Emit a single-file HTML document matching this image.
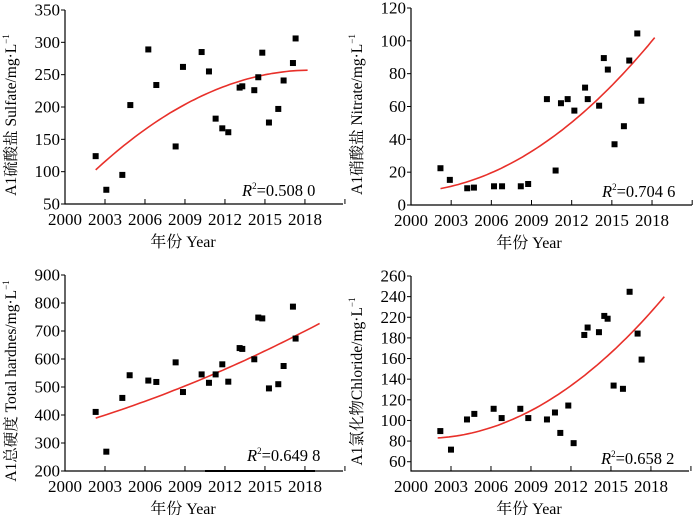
<!DOCTYPE html>
<html><head><meta charset="utf-8"><style>
html,body{margin:0;padding:0;background:#fff;}
svg{display:block;font-family:"Liberation Serif","Noto Serif CJK SC",serif;}
</style></head><body>
<svg id="chart" width="700" height="515" viewBox="0 0 700 515"></svg>
<script>
// ---- Panel data ----
const sulfateYears=[2002.3,2003.1,2004.3,2004.9,2006.25,2006.85,2008.3,2008.85,2010.25,2010.8,2011.3,2011.8,2012.25,2013.1,2013.3,2014.2,2014.5,2014.8,2015.3,2016,2016.4,2017.1,2017.3];
const sulfateValues=[124,72,95,203,289,234,139,262,285,255,182,167,161,230,232,226,246,284,176,197,241,268,306];
const sulfateTicks=[50,100,150,200,250,300,350];
const sulfateFit=[2002.3,2018.2,257,-0.588,2018.5];

const nitrateYears=[2002.2,2002.9,2004.2,2004.7,2006.2,2006.8,2008.2,2008.75,2010.15,2010.8,2011.2,2011.7,2012.2,2013,2013.2,2014.05,2014.4,2014.7,2015.2,2015.9,2016.3,2016.9,2017.2];
const nitrateValues=[22.4,15.3,10.2,10.6,11.4,11.4,11.4,12.8,64.5,21,62,64.5,57.5,71.5,64.5,60.5,89.5,82.5,37,48,88,104.5,63.5];
const nitrateTicks=[0,20,40,60,80,100,120];
const nitrateFit=[2002.2,2018.2,10,1.535,0.2634];

const hardYears=[2002.3,2003.1,2004.3,2004.85,2006.25,2006.85,2008.3,2008.85,2010.25,2010.8,2011.3,2011.8,2012.25,2013.1,2013.3,2014.2,2014.5,2014.8,2015.3,2016,2016.4,2017.1,2017.3];
const hardValues=[411,269,461,542,523,518,588,482,545,515,545,581,519,639,636,599,748,745,495,510,575,787,673];
const hardTicks=[200,300,400,500,600,700,800,900];
const hardFit=[2002.3,2019.1,389,15.08,0.3];

const chlorYears=[2002.2,2003,2004.2,2004.75,2006.2,2006.8,2008.2,2008.8,2010.2,2010.8,2011.2,2011.8,2012.2,2013,2013.25,2014.1,2014.5,2014.75,2015.2,2015.9,2016.4,2017,2017.3];
const chlorValues=[93,73,105.5,111.5,117,107,117,107,105.5,113,91,120.5,80,196.5,204.5,199.5,217,214,142,138.5,243,198,170];
// printed labels (the original figure prints these evenly spaced, 200 omitted)
const chlorTicks=[260,240,220,180,160,140,120,100,80,60];
const chlorFit=[2002,2019,85.6,0.89,0.474];

const xTicks=[2000,2003,2006,2009,2012,2015,2018];
const NS="http://www.w3.org/2000/svg";
const svg=document.getElementById('chart');
function mk(tag,attrs,parent){const e=document.createElementNS(NS,tag);for(const k in attrs)e.setAttribute(k,attrs[k]);(parent||svg).appendChild(e);return e;}

function panel(cfg){
  const g=mk('g',{});
  
  
  const xs=y=>cfg.x0+(y-2000)*cfg.kx;
  const ys=v=>cfg.yTop+(cfg.yMax-v)/(cfg.yMax-cfg.yMin)*(cfg.yBot-cfg.yTop);
  const ax=mk('path',{d:`M${cfg.x0},${cfg.yTop} V${cfg.yBot} H${cfg.xEnd}`,stroke:'#000','stroke-width':1.2,fill:'none'},g);
  
  
  const n=cfg.yTicks.length;
  cfg.yTicks.forEach((v,i)=>{
    const y=cfg.evenTicks ? ys(cfg.yTicks[0]-(cfg.yTicks[0]-cfg.yTicks[n-1])*i/(n-1)) : ys(v);
    mk('line',{x1:cfg.x0-4,x2:cfg.x0,y1:y,y2:y,stroke:'#000','stroke-width':1},g);
    const t=mk('text',{x:cfg.x0-5,y:y+5.5,'text-anchor':'end','font-size':17},g);
    t.textContent=v;
    
    
  });
  xTicks.concat([2021]).forEach(yr=>{
    const x=xs(yr);
    mk('line',{x1:x,x2:x,y1:cfg.yBot,y2:cfg.yBot-5,stroke:'#000','stroke-width':1},g);
  });
  xTicks.forEach(yr=>{
    const t=mk('text',{x:xs(yr),y:cfg.yBot+21,'text-anchor':'middle','font-size':17},g);
    t.textContent=yr;
    
    
  });
  const xt=mk('text',{x:cfg.x0+118,y:cfg.yBot+43,'text-anchor':'middle','font-size':16},g);
  xt.textContent='年份 Year';
  
  
  const cy=(cfg.yTop+cfg.yBot)/2+8;
  const yt=mk('text',{x:cfg.x0-49,y:cy,'text-anchor':'middle','font-size':15.5,transform:`rotate(-90 ${cfg.x0-49} ${cy})`},g);
  yt.innerHTML=cfg.title+'/mg·L<tspan dy="-7" font-size="9">−1</tspan>';
  
  
  let d='';
  const [s,e]=cfg.fit;
  for(let i=0;i<=60;i++){
    const yr=s+(e-s)*i/60;
    const v=cfg.fitFn(yr);
    d+=(i?'L':'M')+xs(yr).toFixed(1)+','+ys(v).toFixed(1);
  }
  const fl=mk('path',{d:d,stroke:'#e8302a','stroke-width':1.6,fill:'none'},g);
  
  
  cfg.years.forEach((yr,i)=>{
    const r=mk('rect',{x:xs(yr)-3,y:ys(cfg.vals[i])-3,width:6,height:6,fill:'#000'},g);
    
    
  });
  const rt=mk('text',{x:cfg.rx,y:cfg.ry,'font-size':16.5},g);
  rt.innerHTML='<tspan font-style="italic">R</tspan><tspan dy="-7" font-size="9">2</tspan><tspan dy="7">=0.'+cfg.r2+'</tspan>';
  
  
  return g;
}

panel({name:'sulfate-panel',x0:65,kx:13.33,xEnd:343,yTop:10,yBot:204,yMin:50,yMax:350,yTicks:sulfateTicks,
  years:sulfateYears,vals:sulfateValues,title:'A1硫酸盐 Sulfate',fit:sulfateFit,
  fitFn:yr=>sulfateFit[2]+sulfateFit[3]*Math.pow(yr-sulfateFit[4],2),rx:242,ry:196,r2:'508 0'});
panel({name:'nitrate-panel',x0:411,kx:13.39,xEnd:692,yTop:8,yBot:205,yMin:0,yMax:120,yTicks:nitrateTicks,
  years:nitrateYears,vals:nitrateValues,title:'A1硝酸盐 Nitrate',fit:nitrateFit,
  fitFn:yr=>{const t=yr-nitrateFit[0];return nitrateFit[2]+nitrateFit[3]*t+nitrateFit[4]*t*t;},rx:602,ry:197,r2:'704 6'});
panel({name:'hardness-panel',x0:65,kx:13.33,xEnd:343,yTop:275,yBot:471,yMin:200,yMax:900,yTicks:hardTicks,
  years:hardYears,vals:hardValues,title:'A1总硬度 Total hardnes',fit:hardFit,
  fitFn:yr=>{const t=yr-hardFit[0];return hardFit[2]+hardFit[3]*t+hardFit[4]*t*t;},rx:247,ry:461,r2:'649 8'});
mk('line',{x1:205,x2:315,y1:471,y2:471,stroke:'#000','stroke-width':2});
panel({name:'chloride-panel',x0:411,kx:13.33,xEnd:689,yTop:276,yBot:471,yMin:50,yMax:260,yTicks:chlorTicks,evenTicks:true,
  years:chlorYears,vals:chlorValues,title:'A1氯化物Chloride',fit:chlorFit,
  fitFn:yr=>{const t=yr-chlorFit[0];return chlorFit[2]+chlorFit[3]*t+chlorFit[4]*t*t;},rx:601,ry:464,r2:'658 2'});
</script>
</body></html>
